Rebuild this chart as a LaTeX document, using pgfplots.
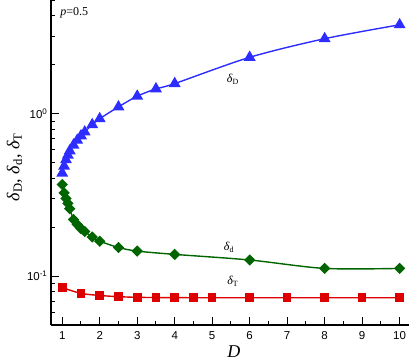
\documentclass[border=0pt]{standalone}
\usepackage{pgfplots}
\pgfplotsset{compat=1.18}
\usepackage{fontspec}
\setmainfont{Liberation Serif}
\setsansfont{Liberation Sans}
\definecolor{cblue}{RGB}{45,45,255}
\definecolor{cgreen}{RGB}{0,100,0}
\definecolor{cred}{RGB}{220,0,0}
\begin{document}
\begin{tikzpicture}
\begin{axis}[
  scale only axis, width=358pt, height=325pt,
  at={(0,0)}, anchor=south west,
  ymode=log, xmin=0.7, xmax=10.25, ymin=0.05, ymax=5,
  axis lines=left, axis line style={-, line width=1.2pt},
  tick align=inside, major tick length=8pt, minor tick length=4pt,
  every tick/.style={black, line width=1pt},
  xtick={1,2,...,10}, minor xtick={1.5,2.5,...,9.5},
  ytick={0.1,1}, yticklabels={\textsf{10\textsuperscript{-1}},\textsf{10\textsuperscript{0}}},
  minor ytick={0.05,0.06,0.07,0.08,0.09,0.2,0.3,0.4,0.5,0.6,0.7,0.8,0.9,2,3,4,5},
  /pgf/number format/assume math mode=true,
  ticklabel style={font=\sffamily\fontsize{11.5}{12}\selectfont},
  xticklabel style={yshift=-3pt},
  xlabel={\textit{D}}, xlabel style={font=\fontsize{18}{20}\selectfont, at={(axis description cs:0.511,-0.100)}, anchor=base},
  ylabel={\textit{δ}\textsubscript{D}, \textit{δ}\textsubscript{d}, \textit{δ}\textsubscript{T}},
  ylabel style={font=\fontsize{18}{20}\selectfont, at={(axis description cs:-0.102,0.486)}, anchor=center},
  clip=false,
]
\addplot[cblue, line width=1.4pt, smooth, mark=triangle*, mark size=5.5pt, mark options={solid, fill=cblue}] coordinates {
(1,0.43) (1.05,0.475) (1.1,0.52) (1.15,0.555) (1.2,0.59) (1.3,0.64) (1.4,0.685) (1.5,0.73) (1.6,0.77) (1.8,0.855) (2,0.93) (2.5,1.10) (3,1.28) (3.5,1.42) (4,1.53) (6,2.22) (8,2.89) (10,3.52)
};
\addplot[cgreen, line width=1.4pt, smooth, mark=square*, mark size=3.3pt, mark options={solid, fill=cgreen, rotate=45}] coordinates {
(1,0.366) (1.05,0.325) (1.1,0.300) (1.15,0.28) (1.2,0.26) (1.3,0.223) (1.4,0.208) (1.5,0.196) (1.6,0.188) (1.8,0.174) (2,0.164) (2.5,0.150) (3,0.1425) (4,0.136) (6,0.1256) (8,0.1115) (10,0.1115)
};
\addplot[cred, line width=1.4pt, smooth, mark=square*, mark size=3.6pt, mark options={solid, fill=cred}] coordinates {
(1,0.0849) (1.5,0.0783) (2,0.0760) (2.5,0.0747) (3,0.0740) (3.5,0.0738) (4,0.0737) (4.5,0.0736) (5,0.0736) (6,0.0736) (7,0.0736) (8,0.0736) (9,0.0736) (10,0.0736)
};
\node[font=\fontsize{12}{13}\selectfont] at (axis cs:5.55,1.62) {\textit{δ}\textsubscript{D}};
\node[font=\fontsize{12}{13}\selectfont] at (axis cs:5.45,0.150) {\textit{δ}\textsubscript{d}};
\node[font=\fontsize{12}{13}\selectfont] at (axis cs:5.55,0.093) {\textit{δ}\textsubscript{T}};
\node[font=\fontsize{12}{13}\selectfont] at (axis description cs:0.065,0.96) {\textit{p}=0.5};
\end{axis}
\pgfresetboundingbox
\useasboundingbox (current axis.south west) ++(-51pt,-37pt) rectangle (current axis.north east);
\end{tikzpicture}
\end{document}
